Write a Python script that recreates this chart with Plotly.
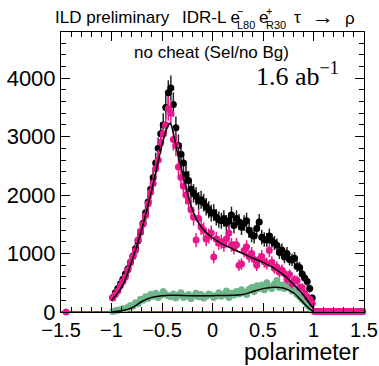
import numpy as np
import plotly.graph_objects as go

# ---------------- data ----------------
bin_centers = [round(-0.9875 + 0.025 * i, 4) for i in range(80)]

black_counts = [250, 330, 400, 480, 560, 650, 740, 850, 960, 1080,
                1220, 1370, 1520, 1700, 1880, 2100, 2300, 2550, 2800, 3050,
                3200, 3500, 3750, 3830, 3550, 3150, 2850, 2700, 2550, 2350,
                2250, 2100, 2030, 1980, 1900, 1920, 1870, 1800, 1750, 1690,
                1700, 1620, 1580, 1560, 1600, 1520, 1560, 1660, 1480, 1600,
                1540, 1450, 1520, 1560, 1400, 1320, 1300, 1430, 1540, 1280,
                1240, 1230, 1300, 1220, 1180, 1140, 1020, 1060, 940, 1000,
                900, 890, 920, 780, 760, 650, 580, 520, 400, 240]

pink_counts = [240, 300, 360, 450, 520, 600, 720, 850, 950, 1050,
               1230, 1380, 1500, 1650, 1850, 2050, 2200, 2450, 2600, 2900,
               3050, 3200, 3480, 3400, 2950, 2850, 2480, 2300, 2150, 2000,
               1900, 1750, 1620, 1230, 1600, 1450, 1400, 1250, 1300, 1350,
               940, 1250, 1180, 1200, 1150, 1250, 1350, 1150, 1100, 1150,
               800, 820, 1050, 1110, 950, 1000, 900, 800, 900, 950,
               860, 830, 1050, 850, 750, 770, 680, 720, 660, 560,
               640, 480, 550, 540, 420, 420, 320, 260, 220, 150]

green_counts = [10, 20, 30, 40, 60, 50, 80, 110, 100, 160,
                140, 220, 200, 260, 230, 300, 270, 320, 250, 290,
                350, 300, 280, 260, 310, 240, 290, 330, 250, 270,
                300, 230, 280, 320, 260, 300, 240, 270, 310, 290,
                250, 280, 330, 270, 300, 360, 250, 320, 290, 350,
                310, 380, 340, 300, 390, 420, 350, 450, 400, 460,
                380, 500, 430, 400, 480, 540, 420, 460, 400, 500,
                420, 360, 380, 300, 260, 220, 180, 120, 80, 30]

# points outside the physical region
outer_pink_x = [-1.45] + [round(1.0125 + 0.025 * i, 4) for i in range(20)]
outer_pink_y = [0] + [8] * 20
outer_green_x = [round(1.0125 + 0.025 * i, 4) for i in range(20)]
outer_green_y = [5] * 20

# fitted curves
fit_total_x = [-1.0, -0.9, -0.8, -0.7, -0.6, -0.5, -0.45, -0.42, -0.38, -0.35,
               -0.3, -0.25, -0.2, -0.15, -0.1, -0.05, 0.0, 0.1, 0.2, 0.3,
               0.4, 0.5, 0.6, 0.7, 0.8, 0.9, 0.95, 1.0]
fit_total_y = [200, 420, 860, 1420, 2100, 2850, 3150, 3230, 3000, 2750,
               2400, 2050, 1750, 1560, 1430, 1340, 1270, 1160, 1080, 1000,
               920, 850, 760, 640, 480, 290, 170, 60]

fit_green_x = [-1.0, -0.9, -0.8, -0.7, -0.6, -0.5, -0.4, -0.2, 0.0, 0.2,
               0.3, 0.4, 0.5, 0.6, 0.7, 0.8, 0.85, 0.9, 0.95, 1.0]
fit_green_y = [0, 20, 70, 180, 250, 280, 285, 280, 280, 285,
               300, 350, 400, 425, 410, 330, 250, 160, 70, 5]

zero_line_x = [-1.5, 1.5]
zero_line_y = [0, 0]

x_tick_vals = [-1.5, -1, -0.5, 0, 0.5, 1, 1.5]
x_tick_text = ["\u22121.5", "\u22121", "\u22120.5", "0", "0.5", "1", "1.5"]
y_tick_vals = [0, 1000, 2000, 3000, 4000]

BLACK = "#000000"
PINK = "#e8188c"
GREEN = "#6fb68a"

W, H = 379, 366
L, R, T, B = 61, 15, 32, 54
PW, PH = W - L - R, H - T - B


def px(x):
    return (x - L) / PW


def py(y):
    return (H - B - y) / PH


def err(vals, k=3.5):
    return [k * np.sqrt(max(v, 0)) for v in vals]


fig = go.Figure()

fig.add_trace(go.Scatter(x=zero_line_x, y=zero_line_y, mode="lines",
                         line=dict(color="#e02020", width=2),
                         cliponaxis=False, showlegend=False, hoverinfo="skip"))

fig.add_trace(go.Scatter(x=bin_centers, y=green_counts, mode="markers",
                         marker=dict(color=GREEN, size=7),
                         error_y=dict(type="data", array=err(green_counts, 2.5),
                                      color=GREEN, thickness=1.5, width=0),
                         cliponaxis=False, showlegend=False))
fig.add_trace(go.Scatter(x=outer_green_x, y=outer_green_y, mode="markers",
                         marker=dict(color=GREEN, size=7),
                         cliponaxis=False, showlegend=False))

fig.add_trace(go.Scatter(x=bin_centers, y=black_counts, mode="markers",
                         marker=dict(color=BLACK, size=7),
                         error_y=dict(type="data", array=err(black_counts),
                                      color="#222222", thickness=1.5, width=0),
                         cliponaxis=False, showlegend=False))

fig.add_trace(go.Scatter(x=bin_centers, y=pink_counts, mode="markers",
                         marker=dict(color=PINK, size=7),
                         error_y=dict(type="data", array=err(pink_counts),
                                      color=PINK, thickness=1.5, width=0),
                         cliponaxis=False, showlegend=False))
fig.add_trace(go.Scatter(x=outer_pink_x, y=outer_pink_y, mode="markers",
                         marker=dict(color=PINK, size=7),
                         cliponaxis=False, showlegend=False))

fig.add_trace(go.Scatter(x=fit_total_x, y=fit_total_y, mode="lines",
                         line=dict(color=BLACK, width=1.5, shape="spline"),
                         showlegend=False))
fig.add_trace(go.Scatter(x=fit_green_x, y=fit_green_y, mode="lines",
                         line=dict(color=BLACK, width=1.5, shape="spline"),
                         showlegend=False))

FONT = "Liberation Sans, Arial, sans-serif"

axis_common = dict(showline=True, linecolor="black", linewidth=1, mirror="ticks",
                   ticks="inside", ticklen=9, tickwidth=1, tickcolor="black",
                   showgrid=False, zeroline=False, automargin=False)

fig.update_xaxes(range=[-1.5, 1.5], tickvals=x_tick_vals, ticktext=x_tick_text,
                 tickfont=dict(family=FONT, size=20, color="black"),
                 minor=dict(dtick=0.1, ticklen=5, ticks="inside", tickcolor="black"),
                 **axis_common)
fig.update_yaxes(range=[0, 4790], tickvals=y_tick_vals,
                 tickfont=dict(family=FONT, size=22, color="black"),
                 minor=dict(dtick=200, ticklen=5, ticks="inside", tickcolor="black"),
                 **axis_common)

ann = []


def add(text, x, y, size=17, anchor="left", family=FONT):
    ann.append(dict(text=text, x=px(x), y=py(y), xref="paper", yref="paper",
                    xanchor=anchor, yanchor="middle", showarrow=False,
                    font=dict(family=family, size=size, color="black")))


add("ILD preliminary", 53, 18)
add("IDR-L e", 180, 18)
add("\u2212", 235, 11, size=11)
add("L80", 235, 25, size=11)
add("e", 257, 18)
add("+", 264, 11, size=11)
add("R30", 264, 25, size=11)
add("\u03c4", 297, 18, anchor="center")
add("\u2192", 323, 17, size=22, anchor="center")
add("\u03c1", 350, 19, anchor="center")
add("no cheat (Sel/no Bg)", 211.5, 53, anchor="center")
add("1.6 ab<sup>\u22121</sup>", 254, 74, size=26, family="Liberation Serif, Times New Roman, serif")
add("polarimeter", 361, 352, size=23, anchor="right")

fig.update_layout(width=W, height=H, margin=dict(l=L, r=R, t=T, b=B),
                  paper_bgcolor="white", plot_bgcolor="white",
                  annotations=ann, showlegend=False)

fig.write_html("out.html", config={"displayModeBar": False},
               post_script="document.body.style.margin='0px';")
